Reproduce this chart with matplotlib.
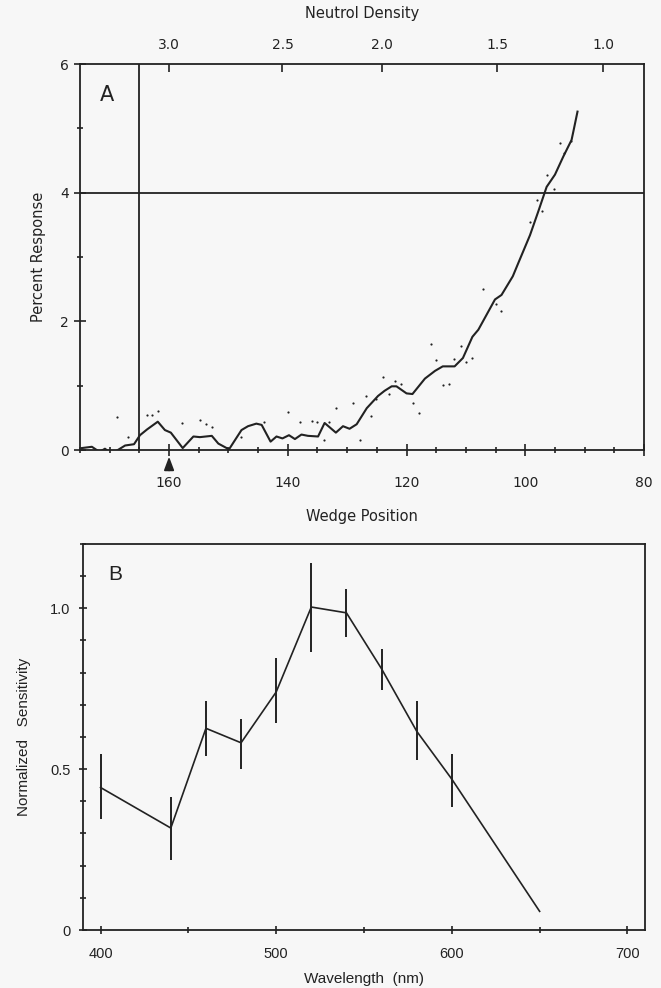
import numpy as np
import matplotlib
matplotlib.use("Agg")
import matplotlib.pyplot as plt

# panel A: smoothed response vs wedge position, plus raw points
wedge = [174.7, 173.0, 171.7, 170.8, 169.8, 168.8, 167.4, 165.9, 164.9, 163.7,
         161.9, 160.7, 159.7, 157.7, 155.9, 154.8, 152.8, 151.7, 149.9, 147.8,
         146.7, 145.3, 144.4, 142.9, 141.9, 140.9, 139.8, 138.8, 137.7, 136.6,
         134.9, 133.8, 131.9, 130.7, 129.6, 128.4, 126.7, 125.9, 124.8, 123.7,
         122.5, 121.7, 120.0, 119.0, 116.9, 115.2, 113.9, 111.9, 110.5, 108.9,
         107.9, 105.1, 104.0, 102.1, 101.2, 99.2, 97.8, 96.4, 95.0, 93.6,
         92.2, 91.9, 91.2]
response = [0.03, 0.05, -0.03, 0.02, -0.05, -0.01, 0.07, 0.09, 0.23, 0.32,
            0.44, 0.31, 0.27, 0.03, 0.21, 0.20, 0.22, 0.10, 0.01, 0.31,
            0.37, 0.41, 0.39, 0.13, 0.21, 0.18, 0.23, 0.17, 0.24, 0.22,
            0.21, 0.42, 0.27, 0.37, 0.33, 0.40, 0.65, 0.73, 0.84, 0.92,
            0.99, 0.99, 0.88, 0.87, 1.11, 1.23, 1.30, 1.30, 1.43, 1.76,
            1.87, 2.34, 2.41, 2.70, 2.90, 3.34, 3.71, 4.09, 4.28, 4.56,
            4.82, 4.95, 5.26]

dot_w = [168.8, 166.9, 171.7, 170.8, 164.9, 163.7, 162.9, 161.9, 157.9, 154.8,
         153.8, 152.8, 150.9, 149.7, 147.8, 144.0, 141.9, 139.9, 138.0, 135.9,
         135.0, 133.9, 133.0, 131.9, 129.0, 126.9, 127.9, 125.9, 125.1, 123.9,
         122.9, 121.9, 121.0, 118.9, 117.9, 115.9, 115.0, 113.8, 112.9, 112.0,
         110.9, 110.0, 109.0, 107.1, 105.0, 104.1, 99.2, 98.1, 97.2, 96.3,
         95.2, 94.2, 93.4, 92.3]
dot_v = [0.52, 0.20, -0.14, -0.23, -0.11, 0.55, 0.55, 0.61, 0.42, 0.47,
         0.40, 0.35, -0.16, -0.13, 0.20, 0.43, -0.09, 0.59, 0.43, 0.45,
         0.43, 0.15, 0.43, 0.65, 0.73, 0.84, 0.15, 0.53, 0.79, 1.13,
         0.87, 1.08, 1.03, 0.73, 0.57, 1.64, 1.40, 1.01, 1.03, 1.41,
         1.62, 1.37, 1.43, 2.50, 2.27, 2.16, 3.54, 3.88, 3.71, 4.28,
         4.05, 4.77, 4.62, 4.81]

nd_labels = ["3.0", "2.5", "2.0", "1.5", "1.0"]
nd_wedge = [160.0, 140.9, 124.2, 104.7, 86.9]

threshold = 4.0
threshold_wedge = 165.0
arrow_wedge = 160.0

# panel B: spectral sensitivity with error bars
wavelength = [400, 440, 460, 480, 500, 520, 540, 560, 580, 600]
sens = [0.443, 0.317, 0.627, 0.582, 0.740, 1.004, 0.986, 0.812, 0.618, 0.469]
sens_lo = [0.346, 0.217, 0.540, 0.501, 0.645, 0.864, 0.911, 0.745, 0.529, 0.381]
sens_hi = [0.547, 0.412, 0.712, 0.657, 0.845, 1.142, 1.061, 0.874, 0.713, 0.547]
tail_wl = [600, 650]
tail_sens = [0.469, 0.058]

bg = "#f7f7f7"
ink = "#222222"

fig = plt.figure(figsize=(6.61, 9.88), dpi=100, facecolor=bg)

# ---- panel A ----
axA = fig.add_axes([80/661, 1-450/988, 564/661, 386/988], facecolor=bg)
axA.plot(wedge, response, color=ink, lw=1.5)
axA.scatter(dot_w, dot_v, s=2.5, color=ink, lw=0)
axA.axhline(threshold, color=ink, lw=1.3)
axA.axvline(threshold_wedge, color=ink, lw=1.3)
axA.set_xlim(175, 80)
axA.set_ylim(0, 6)
axA.set_xticks([160, 140, 120, 100, 80])
axA.set_xticks(np.arange(80, 176, 5), minor=True)
axA.set_yticks([0, 2, 4, 6])
axA.set_yticks([1, 3, 5], minor=True)
axA.tick_params(which="both", direction="inout", color=ink, labelcolor=ink,
                labelsize=10, width=1.2)
axA.tick_params(which="major", length=9)
axA.tick_params(which="minor", length=5)
axA.tick_params(axis="x", pad=14)
for s in axA.spines.values():
    s.set_linewidth(1.3)
    s.set_color(ink)
axA.set_xlabel("Wedge Position", fontsize=10.5, color=ink, labelpad=14)
axA.set_ylabel("Percent Response", fontsize=10.5, color=ink, labelpad=10)
axA.text(0.035, 0.92, "A", transform=axA.transAxes, fontsize=15, color=ink,
         va="center")
axA.annotate("", xy=(arrow_wedge, -0.06), xytext=(arrow_wedge, -0.36),
             arrowprops=dict(arrowstyle="-|>,head_width=0.3,head_length=0.8",
                             color=ink, lw=1.3), annotation_clip=False)

topA = axA.twiny()
topA.set_xlim(axA.get_xlim())
topA.set_xticks(nd_wedge)
topA.set_xticklabels(nd_labels)
topA.tick_params(direction="in", length=6, width=1.2, color=ink,
                 labelcolor=ink, labelsize=10, pad=9)
topA.set_xlabel("Neutrol Density", fontsize=10.5, color=ink, labelpad=14)
for s in topA.spines.values():
    s.set_visible(False)

# ---- panel B ----
lib = ["Liberation Sans", "DejaVu Sans"]
axB = fig.add_axes([83/661, 1-930/988, 562/661, 386/988], facecolor=bg)
axB.plot(wavelength, sens, color=ink, lw=1.2)
axB.plot(tail_wl, tail_sens, color=ink, lw=1.2)
axB.vlines(wavelength, sens_lo, sens_hi, color=ink, lw=1.4)
axB.set_xlim(390, 710)
axB.set_ylim(0, 1.2)
axB.set_xticks([400, 500, 600, 700])
axB.set_xticks(np.arange(400, 701, 50), minor=True)
axB.set_yticks([0, 0.5, 1.0])
axB.set_yticklabels(["0", "0.5", "1.0"])
axB.set_yticks(np.arange(0, 1.21, 0.1), minor=True)
axB.tick_params(which="both", direction="inout", color=ink, labelcolor=ink,
                labelsize=10.5, width=1.2)
axB.tick_params(which="major", length=6)
axB.tick_params(which="minor", length=5)
axB.tick_params(axis="x", pad=9)
axB.tick_params(axis="y", pad=6)
for lab in axB.get_xticklabels() + axB.get_yticklabels():
    lab.set_family(lib)
for s in axB.spines.values():
    s.set_linewidth(1.3)
    s.set_color(ink)
axB.set_xlabel("Wavelength  (nm)", fontsize=11, color=ink, family=lib,
               labelpad=8)
axB.set_ylabel("Normalized   Sensitivity", fontsize=11, color=ink, family=lib,
               labelpad=14)
axB.text(0.045, 0.92, "B", transform=axB.transAxes, fontsize=15, color=ink,
         va="center", family=lib)

fig.savefig("out.png", dpi=100, facecolor=bg)
